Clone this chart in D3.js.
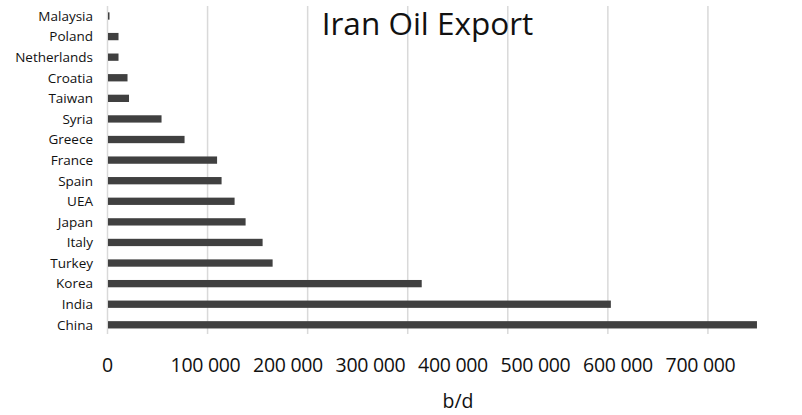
<!DOCTYPE html>
<html>
<head>
<meta charset="utf-8">
<script src="https://cdn.jsdelivr.net/npm/d3@7/dist/d3.min.js"></script>
<style>
  html, body { margin: 0; padding: 0; background: #fff; }
  svg { display: block; }
  text { font-family: "Open Sans", sans-serif; fill: #111; }
</style>
</head>
<body>
<svg id="chart" width="802" height="415"></svg>
<script>
// Importing countries, top to bottom
const countries = ["Malaysia", "Poland", "Netherlands", "Croatia", "Taiwan", "Syria", "Greece",
  "France", "Spain", "UEA", "Japan", "Italy", "Turkey", "Korea", "India", "China"];

// Barrels per day bought from Iran
const barrelsPerDay = [2000, 11000, 11000, 20000, 21500, 54000, 77000,
  109500, 114000, 127000, 138000, 155000, 165000, 314000, 503000, 649000];

// Value axis ticks
const tickValues = [0, 100000, 200000, 300000, 400000, 500000, 600000, 700000];

const titleText = "Iran Oil Export";
const axisTitle = "b/d";

const svg = d3.select("#chart");
const fmt = d3.formatLocale({ decimal: ",", thousands: " ", grouping: [3], currency: ["", ""] }).format(",d");

const x = d3.scaleLinear().domain([0, 700000]).range([107.5, 808]);
const y = d3.scaleBand().domain(countries).range([5.7, 335.1])
  .paddingInner(0.645).paddingOuter(0.3225);

// vertical gridlines
svg.append("g")
  .selectAll("line")
  .data(tickValues)
  .join("line")
  .attr("x1", d => x(d)).attr("x2", d => x(d))
  .attr("y1", 6).attr("y2", 334)
  .attr("stroke", "#d9d9d9")
  .attr("stroke-width", 1.5);

// bars
svg.append("g")
  .selectAll("rect")
  .data(countries.map((c, i) => ({ c, v: barrelsPerDay[i] })))
  .join("rect")
  .attr("x", x(0) + 0.5)
  .attr("y", d => y(d.c))
  .attr("width", d => x(d.v) - x(0) - 0.5)
  .attr("height", y.bandwidth())
  .attr("fill", "#404040");

// category labels
svg.append("g")
  .selectAll("text")
  .data(countries)
  .join("text")
  .attr("x", 93)
  .attr("y", d => y(d) + y.bandwidth() / 2)
  .attr("dy", "0.36em")
  .attr("text-anchor", "end")
  .attr("font-size", 13.5)
  .text(d => d);

// value labels: zero sits under the axis line, the rest run together
const runScale = d3.scalePoint().domain(tickValues.slice(1)).range([205.5, 700.5]);
svg.append("g")
  .selectAll("text")
  .data(tickValues)
  .join("text")
  .attr("x", d => d === 0 ? x(0) : runScale(d))
  .attr("y", 372)
  .attr("text-anchor", "middle")
  .attr("font-size", 19.5)
  .attr("letter-spacing", -0.3)
  .text(d => fmt(d));

svg.append("text")
  .attr("x", 458)
  .attr("y", 408)
  .attr("text-anchor", "middle")
  .attr("font-size", 19.5)
  .text(axisTitle);

svg.append("text")
  .attr("x", 427.5)
  .attr("y", 35)
  .attr("text-anchor", "middle")
  .attr("font-size", 31.5)
  .text(titleText);
</script>
</body>
</html>
